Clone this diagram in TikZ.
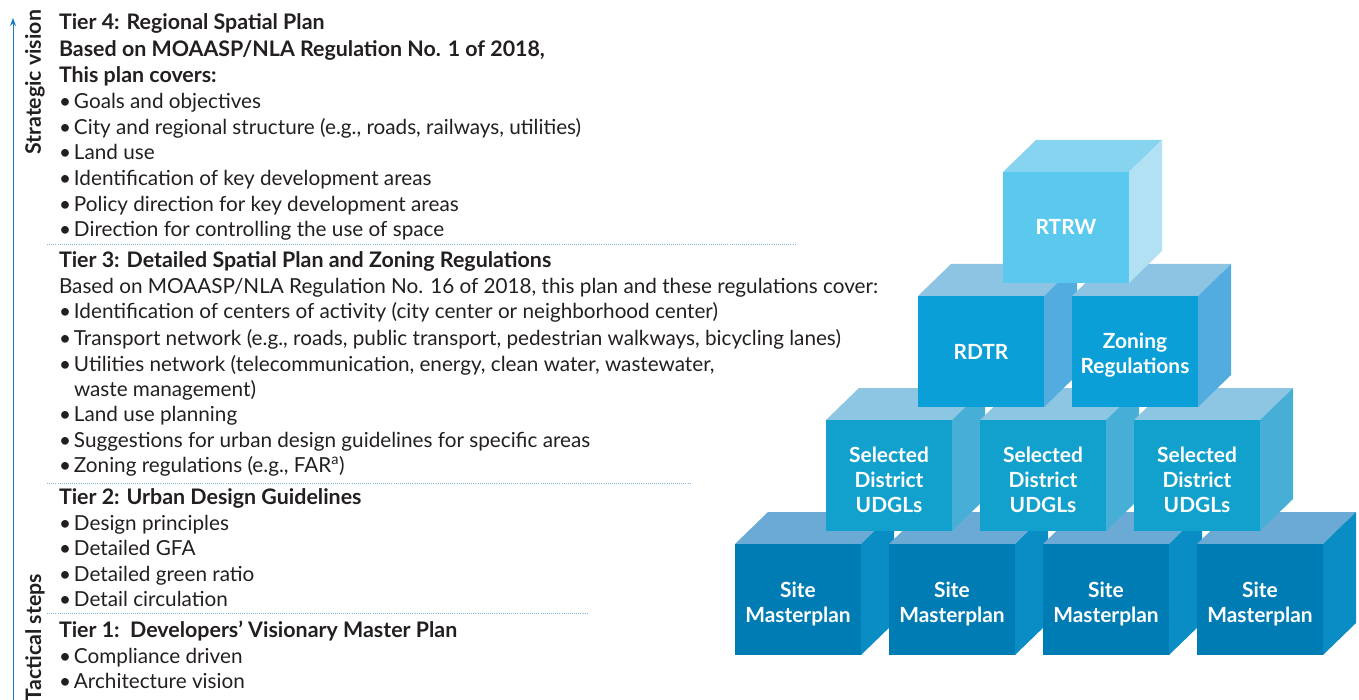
\documentclass[tikz,border=0pt]{standalone}
\usepackage{fontspec}
\setmainfont{Lato}
\usetikzlibrary{arrows.meta}
\definecolor{txt}{HTML}{231F20}
\definecolor{axiscol}{HTML}{1C7DC2}
\definecolor{dotcol}{HTML}{7FB8E0}
\definecolor{c1f}{HTML}{007CB5}\definecolor{c1t}{HTML}{6AAAD4}\definecolor{c1s}{HTML}{0A8DC5}
\definecolor{c2f}{HTML}{12A1CC}\definecolor{c2t}{HTML}{8CC6E2}\definecolor{c2s}{HTML}{47AFD6}
\definecolor{c3f}{HTML}{0A9FD6}\definecolor{c3t}{HTML}{8DC4E4}\definecolor{c3s}{HTML}{52ACDF}
\definecolor{c4f}{HTML}{5BC9EE}\definecolor{c4t}{HTML}{87D4F1}\definecolor{c4s}{HTML}{B2E1F4}
\newcommand\drawcube[6]{%
  \fill[c#4t] (#2,#3) -- ++(33,-32) -- ++(126,0) -- ++(-33,32) -- cycle;
  \fill[c#4s] (#2+126,#3) -- ++(33,-32) -- ++(0,111) -- ++(-33,32) -- cycle;
  \coordinate (#1c) at (#2+63,#3+55.5);
  \fill[c#4f] (#2,#3) rectangle ++(126,111);
  \node[cubetext, yshift=#6] (#1) at (#1c) {#5};
}
\newcommand\bl{\makebox[15pt][l]{•}}
\begin{document}
\begin{tikzpicture}[x=1pt,y=-1pt,
  every node/.style={inner sep=0pt, outer sep=0pt},
  body/.style={anchor=base west, text=txt, font=\fontsize{20.7}{24}\selectfont},
  bodyb/.style={anchor=base west, text=txt, font=\fontsize{21.4}{24}\selectfont\bfseries},
  side/.style={text=txt, font=\fontsize{21.3}{24}\selectfont\bfseries, rotate=90},
  dotline/.style={draw=dotcol, line width=0.9pt, dash pattern=on 0.9pt off 1.2pt},
  cubetext/.style={text=white, font=\fontsize{20.9}{25}\selectfont\bfseries, align=center}]
\useasboundingbox (0,0) rectangle (1359,700);
% axis
\coordinate (axbot) at (13,700);
\coordinate (axtop) at (13,18);
\draw[axiscol, line width=1pt, -{Stealth[length=8pt,width=6pt]}] (axbot) -- (axtop);
\node[side, anchor=east] (sv) at (35,10) {Strategic vision};
\node[side, anchor=west] (ts) at (35,701) {Tactical steps};
% Tier 4
\node[bodyb] (a1) at (59,30) {Tier 4: Regional Spatial Plan};
\node[bodyb] (a2) at (59,57) {Based on MOAASP/NLA Regulation No. 1 of 2018,};
\node[bodyb] (a3) at (59,83) {This plan covers:};
\node[body] (a4) at (59,109) {\bl Goals and objectives};
\node[body] (a5) at (59,135) {\bl City and regional structure (e.g., roads, railways, utilities)};
\node[body] (a6) at (59,160) {\bl Land use};
\node[body] (a7) at (59,186) {\bl Identification of key development areas};
\node[body] (a8) at (59,212) {\bl Policy direction for key development areas};
\node[body] (a9) at (59,237) {\bl Direction for controlling the use of space};
\coordinate (d1a) at (47,244); \coordinate (d1b) at (795,244);
\draw[dotline] (d1a) -- (d1b);
% Tier 3
\node[bodyb] (b1) at (59,268) {Tier 3: Detailed Spatial Plan and Zoning Regulations};
\node[body] (b2) at (59,294) {Based on MOAASP/NLA Regulation No. 16 of 2018, this plan and these regulations cover:};
\node[body] (b3) at (59,319) {\bl Identification of centers of activity (city center or neighborhood center)};
\node[body] (b4) at (59,345) {\bl Transport network (e.g., roads, public transport, pedestrian walkways, bicycling lanes)};
\node[body] (b5) at (59,371) {\bl Utilities network (telecommunication, energy, clean water, wastewater,};
\node[body] (b6) at (74,396) {waste management)};
\node[body] (b7) at (59,421) {\bl Land use planning};
\node[body] (b8) at (59,447) {\bl Suggestions for urban design guidelines for specific areas};
\node[body] (b9) at (59,472) {\bl Zoning regulations (e.g., FAR\textsuperscript{a})};
\coordinate (d2a) at (47,483); \coordinate (d2b) at (690,483);
\draw[dotline] (d2a) -- (d2b);
% Tier 2
\node[bodyb] (c1) at (59,504) {Tier 2: Urban Design Guidelines};
\node[body] (c2) at (59,530) {\bl Design principles};
\node[body] (c3) at (59,555) {\bl Detailed GFA};
\node[body] (c4) at (59,581) {\bl Detailed green ratio};
\node[body] (c5) at (59,606) {\bl Detail circulation};
\coordinate (d3a) at (47,613); \coordinate (d3b) at (588,613);
\draw[dotline] (d3a) -- (d3b);
% Tier 1
\node[bodyb] (e1) at (59,637) {Tier 1:\ \ Developers’ Visionary Master Plan};
\node[body] (e2) at (59,663) {\bl Compliance driven};
\node[body] (e3) at (59,688) {\bl Architecture vision};
% cubes: bottom row
\drawcube{s1}{735}{544}{1}{Site\\Masterplan}{-4pt}
\drawcube{s2}{889}{544}{1}{Site\\Masterplan}{-4pt}
\drawcube{s3}{1043}{544}{1}{Site\\Masterplan}{-4pt}
\drawcube{s4}{1197}{544}{1}{Site\\Masterplan}{-4pt}
% row 2
\drawcube{u1}{826}{420}{2}{Selected\\District\\UDGLs}{-4pt}
\drawcube{u2}{980}{420}{2}{Selected\\District\\UDGLs}{-4pt}
\drawcube{u3}{1134}{420}{2}{Selected\\District\\UDGLs}{-4pt}
% row 3
\drawcube{r1}{918}{296}{3}{RDTR}{0pt}
\drawcube{r2}{1072}{296}{3}{Zoning\\Regulations}{-4pt}
% row 4
\drawcube{t1}{1003}{172}{4}{RTRW}{1pt}
\end{tikzpicture}
\end{document}
